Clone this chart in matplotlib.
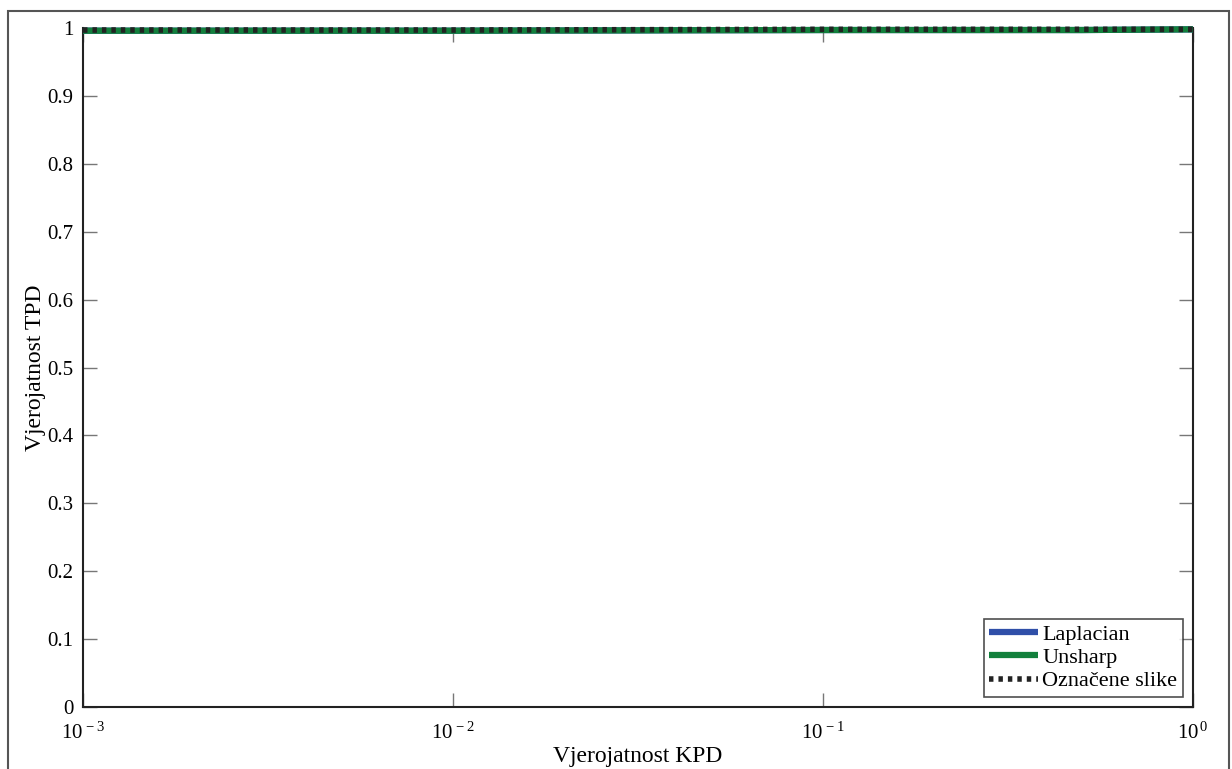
import numpy as np
import matplotlib.pyplot as plt
from matplotlib.patches import Rectangle
from matplotlib.ticker import FuncFormatter

plt.rcParams['font.family'] = ['Liberation Serif', 'DejaVu Serif']
plt.rcParams['mathtext.fontset'] = 'custom'
plt.rcParams['mathtext.rm'] = 'Liberation Serif'
plt.rcParams['mathtext.it'] = 'Liberation Serif:italic'

# ROC data (false positive prob vs true positive prob)
kpd = [1e-3, 1e-2, 1e-1, 0.5, 1.0]
tpd_laplacian = [0.996, 0.996, 0.997, 0.997, 0.998]
tpd_unsharp = [0.996, 0.996, 0.997, 0.997, 0.998]
tpd_oznacene = [0.997, 0.997, 0.998, 0.998, 0.998]
series_names = ['Laplacian', 'Unsharp', 'Označene slike']
yticks = [0, 0.1, 0.2, 0.3, 0.4, 0.5, 0.6, 0.7, 0.8, 0.9, 1]

fig = plt.figure(figsize=(12.32, 7.69), dpi=100)
ax = fig.add_axes([0.0674, 0.0806, 0.9009, 0.883])

ax.plot(kpd, tpd_laplacian, color='#2f4fa8', lw=4.5, label=series_names[0], clip_on=False,
        zorder=5, solid_capstyle='butt')
ax.plot(kpd, tpd_unsharp, color='#12803c', lw=4.5, label=series_names[1], clip_on=False,
        zorder=6, solid_capstyle='butt')
ax.plot(kpd, tpd_oznacene, color='#222222', lw=4, ls=(0, (0.8, 0.9)), label=series_names[2],
        clip_on=False, zorder=7, dash_capstyle='butt')

ax.set_xscale('log')
ax.set_xlim(1e-3, 1)
ax.set_ylim(0, 1)
ax.set_yticks(yticks)
ax.yaxis.set_major_formatter(FuncFormatter(lambda v, p: '%g' % v))
ax.xaxis.set_major_formatter(FuncFormatter(lambda v, p: r'$10^{\,%d}$' % int(round(np.log10(v)))))
ax.minorticks_off()
ax.tick_params(direction='in', length=10, width=1, color='#777777', labelsize=15,
               top=True, right=True, pad=7)
ax.tick_params(axis='x', pad=11)
for s in ax.spines.values():
    s.set_color('#222222')
    s.set_linewidth(1.5)
ax.spines['top'].set_visible(False)

ax.set_xlabel('Vjerojatnost KPD', fontsize=17, labelpad=2)
ax.set_ylabel('Vjerojatnost TPD', fontsize=17, labelpad=1)

leg = ax.legend(loc='lower right', fontsize=16, frameon=True, fancybox=False,
                edgecolor='#222222', handlelength=2.2, handletextpad=0.2,
                borderpad=0.25, labelspacing=0.12, borderaxespad=0.45)
leg.get_frame().set_linewidth(1.2)
leg.set_zorder(10)

# outer frame around the figure
fig.patches.append(Rectangle((8 / 1232, -0.05), (1229 - 8) / 1232, 1.05 - 11 / 769,
                             transform=fig.transFigure, fill=False,
                             edgecolor='#555555', lw=1.5))

fig.savefig('out.png', dpi=100)
